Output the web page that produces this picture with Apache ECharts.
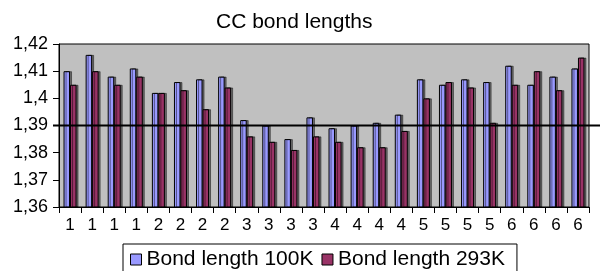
<!DOCTYPE html>
<html>
<head>
<meta charset="utf-8">
<script src="https://cdn.jsdelivr.net/npm/echarts@6/dist/echarts.min.js"></script>
<style>
  html, body { margin: 0; padding: 0; background: #fff; }
  #main { width: 600px; height: 271px; }
</style>
</head>
<body>
<div id="main"></div>
<script>
// categories (ring position) and bond lengths
var categories = ['1', '1', '1', '1', '2', '2', '2', '2', '3', '3', '3', '3',
                  '4', '4', '4', '4', '5', '5', '5', '5', '6', '6', '6', '6'];
var bond100K = [1.410, 1.416, 1.408, 1.411, 1.402, 1.406, 1.407, 1.408,
                1.392, 1.390, 1.385, 1.393, 1.389, 1.390, 1.391, 1.394,
                1.407, 1.405, 1.407, 1.406, 1.412, 1.405, 1.408, 1.411];
var bond293K = [1.405, 1.410, 1.405, 1.408, 1.402, 1.403, 1.396, 1.404,
                1.386, 1.384, 1.381, 1.386, 1.384, 1.382, 1.382, 1.388,
                1.400, 1.406, 1.404, 1.391, 1.405, 1.410, 1.403, 1.415];
var seriesNames = ['Bond length 100K', 'Bond length 293K'];
var refValue = 1.39;

var font = '"Liberation Sans", Arial, Helvetica, sans-serif';
var gridLeft = 59, gridRight = 11, gridTop = 44, gridBottom = 64;

var myChart = echarts.init(document.getElementById('main'));

function barSeries(name, data, color) {
	return {
		name: name,
		type: 'bar',
		data: data,
		barWidth: 6.5,
		barGap: '0%',
		itemStyle: {
			color: color,
			borderColor: '#000',
			borderWidth: 1,
			shadowColor: 'rgba(0,0,0,0.45)',
			shadowOffsetX: 2,
			shadowOffsetY: 0
		}
	};
}

var option = {
	animation: false,
	title: {
		text: 'CC bond lengths',
		left: 211,
		top: 7,
		textStyle: { fontFamily: font, fontSize: 21, fontWeight: 'normal', color: '#000' }
	},
	legend: {
		left: 123,
		top: 244,
		itemWidth: 11,
		itemHeight: 11,
		itemGap: 8,
		padding: [5, 12, 6, 7],
		borderColor: '#000',
		borderWidth: 1,
		icon: 'rect',
		itemStyle: { borderColor: '#000', borderWidth: 1 },
		textStyle: { fontFamily: font, fontSize: 21, color: '#000' },
		data: seriesNames
	},
	grid: {
		left: gridLeft,
		right: gridRight,
		top: gridTop,
		bottom: gridBottom,
		show: true,
		backgroundColor: '#c0c0c0',
		borderColor: '#000',
		borderWidth: 1
	},
	xAxis: {
		type: 'category',
		data: categories,
		axisLine: { lineStyle: { color: '#000', width: 1 } },
		axisTick: { show: true, length: 6, lineStyle: { color: '#000' } },
		axisLabel: { fontFamily: font, fontSize: 17, color: '#000', margin: 10, interval: 0 }
	},
	yAxis: {
		type: 'value',
		min: 1.36,
		max: 1.42,
		interval: 0.01,
		axisLine: { show: true, lineStyle: { color: '#000', width: 1 } },
		axisTick: { show: true, length: 6, lineStyle: { color: '#000' } },
		splitLine: { show: false },
		axisLabel: {
			fontFamily: font, fontSize: 18, color: '#000', margin: 11,
			formatter: function (v) {
				return String(Math.round(v * 100) / 100).replace('.', ',');
			}
		}
	},
	series: [
		barSeries(seriesNames[0], bond100K, '#9999ff'),
		barSeries(seriesNames[1], bond293K, '#993366')
	]
};

myChart.setOption(option);

// reference line at 1.39, runs past the plot up to the right edge
var yRef = myChart.convertToPixel({ yAxisIndex: 0 }, refValue);
myChart.setOption({
	graphic: [{
		type: 'line',
		shape: { x1: gridLeft - 6, y1: yRef, x2: myChart.getWidth(), y2: yRef },
		style: { stroke: '#000', lineWidth: 2 },
		z: 100
	}]
});
</script>
</body>
</html>
